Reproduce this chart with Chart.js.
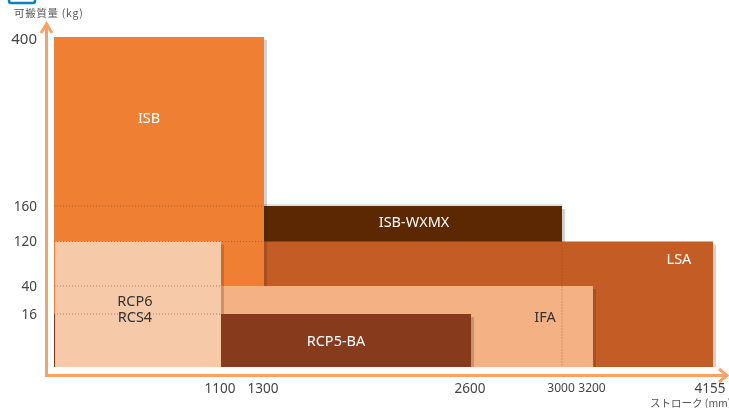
<!DOCTYPE html>
<html><head><meta charset="utf-8">
<style>html,body{margin:0;padding:0;background:#fff}#w{width:729px;height:408px;position:relative}</style>
<script src="https://cdn.jsdelivr.net/npm/chart.js@4"></script>
</head><body><div id="w"><canvas id="c" width="729" height="408"></canvas></div>
<script>
// Axis tick values
const xTicks = [1100, 1300, 2600, 3000, 3200, 4155];
const yTicks = [16, 40, 120, 160, 400];
const xAxisStops = [0, 1100, 1300, 2600, 3000, 3200, 4155];
const yAxisStops = [0, 16, 40, 120, 160, 400];
// Non-linear axis: share of axis length at each stop
const xAxisShare = [0, 0.2534, 0.3187, 0.6328, 0.7709, 0.8179, 1];
const yAxisShare = [0, 0.1606, 0.2455, 0.3803, 0.4879, 1];

// Series: stroke range [from, to] and payload
const ISB_WXMX = [1300, 3000, 160];
const LSA = [1300, 4155, 120];
const ISB = [0, 1300, 400];
const IFA = [1100, 3200, 40];
const RCP5_BA = [0, 2600, 16];
const RCP6 = [7, 1100, 120];
const RCP5_BA_FRONT = [1100, 2600, 16];

// Label anchor points [stroke, payload]
const labels = [
  ['ISB', 626, 285, '#fff'],
  ['ISB-WXMX', 2242, 142, '#fff'],
  ['LSA', 3884, 88.5, '#fff'],
  ['IFA', 2925, 15, '#333'],
  ['RCP5-BA', 1752, 8, '#fff'],
  ['RCP6', 533, 27, '#333'],
  ['RCS4', 533, 15, '#333']
];

class SteppedScale extends Chart.LinearScale {
  buildTicks() {
    return this.options.tickList.map(v => ({ value: v }));
  }
  getPixelForValue(v) {
    const s = this.options.stops, f = this.options.share;
    let i = 0;
    while (i < s.length - 2 && v > s[i + 1]) i++;
    const t = f[i] + (v - s[i]) / (s[i + 1] - s[i]) * (f[i + 1] - f[i]);
    return this.isHorizontal() ? this.left + t * this.width : this.bottom - t * this.height;
  }
  _computeLabelItems(area) {
    const items = super._computeLabelItems(area);
    items.forEach((it, i) => {
      const v = this.ticks[i].value, tr = it.options.translation;
      if (this.isHorizontal()) {
        it.options.translation = [tr[0] + (v === 4155 ? -3 : -1), tr[1]];
      } else {
        it.options.translation = [tr[0], tr[1] + (v === 400 ? 3 : 1)];
      }
    });
    return items;
  }
}
SteppedScale.id = 'stepped';
SteppedScale.defaults = {};
Chart.register(SteppedScale);

const rect = (label, r, color, shadow) => ({
  label, data: [{ x: r[0], y: r[2] }, { x: r[1], y: r[2] }],
  showLine: true, fill: 'origin', backgroundColor: color, borderWidth: 0,
  pointRadius: 0, tension: 0, shadow
});
const dot = (a, b) => ({
  data: [{ x: a[0], y: a[1] }, { x: b[0], y: b[1] }],
  showLine: true, fill: false, borderColor: 'rgba(125,55,15,0.5)', borderWidth: 1,
  borderDash: [1, 2], pointRadius: 0, tension: 0, dotted: true
});

const shadowPlugin = {
  id: 'edgeShadow',
  beforeDatasetDraw(chart, args) {
    const ds = chart.data.datasets[args.index];
    if (!ds.shadow) return;
    const { x, y } = chart.scales, d = ds.data, c = chart.ctx;
    const px = x.getPixelForValue(d[1].x), py = y.getPixelForValue(d[1].y), b = y.getPixelForValue(0);
    c.save(); c.fillStyle = 'rgba(60,40,30,0.22)';
    c.fillRect(px, py + 3, 3, b - py - 3);
    if (ds.label === 'ISB-WXMX') {
      c.fillStyle = 'rgba(60,60,60,0.16)';
      c.fillRect(x.getPixelForValue(d[0].x), py - 2, px - x.getPixelForValue(d[0].x), 2);
    }
    c.restore();
  }
};
const decorPlugin = {
  id: 'decor',
  afterDatasetsDraw(chart) {
    const { x, y } = chart.scales, c = chart.ctx;
    c.save();
    c.font = '14.5px "Noto Sans"'; c.textAlign = 'center'; c.textBaseline = 'middle';
    labels.forEach(l => { c.fillStyle = l[3]; c.fillText(l[0], x.getPixelForValue(l[1]), y.getPixelForValue(l[2]) + 1); });
    // Axis arrows
    c.strokeStyle = '#f9a268'; c.lineWidth = 3; c.lineCap = 'butt'; c.lineJoin = 'miter';
    c.beginPath(); c.moveTo(46.5, 23); c.lineTo(46.5, 375.5); c.lineTo(726, 375.5); c.stroke();
    c.lineWidth = 3;
    c.beginPath(); c.moveTo(41, 33); c.lineTo(46.5, 24); c.lineTo(52, 33); c.stroke();
    c.beginPath(); c.moveTo(719, 369); c.lineTo(727, 375.5); c.lineTo(719, 382); c.stroke();
    // Axis titles and top tab
    c.fillStyle = '#555'; c.textAlign = 'left';
    c.font = '10.5px "Noto Sans CJK JP"'; c.letterSpacing = '0.7px';
    c.fillText('可搬質量 (kg)', 14, 13);
    c.letterSpacing = '0px';
    c.fillText('ストローク (mm)', 650, 403);
    c.strokeStyle = '#0b7fc0'; c.lineWidth = 2.5;
    c.beginPath(); c.roundRect(9, -6, 26, 9, 2); c.stroke();
    c.restore();
  }
};

new Chart(document.getElementById('c'), {
  type: 'scatter',
  data: { datasets: [
    rect('ISB-WXMX', ISB_WXMX, '#5c2703', true),
    rect('LSA', LSA, '#c45c26', true),
    rect('ISB', ISB, '#ef7f33', true),
    rect('IFA', IFA, '#f4b183', true),
    rect('RCP5-BA', RCP5_BA, '#873b1c', false),
    rect('RCP6', RCP6, '#f6c9a9', true),
    rect('RCP5-BA', RCP5_BA_FRONT, '#873b1c', true),
    dot([0, 160], [1300, 160]),
    dot([0, 120], [1300, 120]),
    dot([0, 40], [1100, 40]),
    dot([0, 16], [1100, 16]),
    dot([3000, 120], [3000, 0])
  ].map((d, i, all) => ({ ...d, order: all.length - i })) },
  options: {
    responsive: false, animation: false, devicePixelRatio: 1,
    layout: { padding: { top: 37, right: 16, left: 0, bottom: 0 } },
    plugins: { legend: { display: false }, tooltip: { enabled: false }, title: { display: false } },
    scales: {
      x: {
        type: 'stepped', min: 0, max: 4155, stops: xAxisStops, share: xAxisShare, tickList: xTicks,
        grid: { display: false }, border: { display: false },
        afterFit(s) { s.height = 41; s.paddingRight = 0; s.paddingLeft = 0; },
        ticks: {
          autoSkip: false, maxRotation: 0, minRotation: 0, padding: 6, color: '#444',
          callback: v => String(v),
          font: c => ({ family: '"Noto Sans"', size: (c.tick && (c.tick.value === 3000 || c.tick.value === 3200)) ? 12 : 13.5 })
        }
      },
      y: {
        type: 'stepped', min: 0, max: 400, stops: yAxisStops, share: yAxisShare, tickList: yTicks,
        grid: { display: false }, border: { display: false },
        afterFit(s) { s.width = 54; s.paddingTop = 0; s.paddingBottom = 0; },
        ticks: {
          autoSkip: false, padding: 9, color: '#444', callback: v => String(v),
          font: c => ({ family: '"Noto Sans"', size: (c.tick && c.tick.value === 400) ? 15 : 13.5 })
        }
      }
    }
  },
  plugins: [shadowPlugin, decorPlugin]
});
</script></body></html>
